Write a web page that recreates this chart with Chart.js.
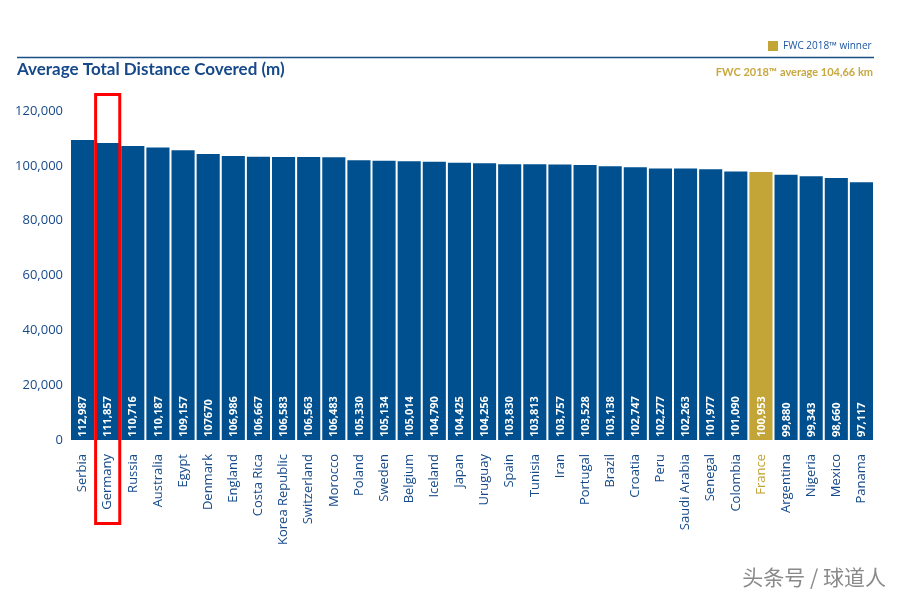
<!DOCTYPE html>
<html>
<head>
<meta charset="utf-8">
<script src="https://cdn.jsdelivr.net/npm/chart.js@4/dist/chart.umd.min.js"></script>
<style>
  html, body { margin: 0; padding: 0; background: #ffffff; }
  #wrap { width: 900px; height: 595px; position: relative; }
</style>
</head>
<body>
<div id="wrap"><canvas id="c" width="900" height="595"></canvas></div>
<script>
const countries = ["Serbia","Germany","Russia","Australia","Egypt","Denmark","England","Costa Rica","Korea Republic","Switzerland","Morocco","Poland","Sweden","Belgium","Iceland","Japan","Uruguay","Spain","Tunisia","Iran","Portugal","Brazil","Croatia","Peru","Saudi Arabia","Senegal","Colombia","France","Argentina","Nigeria","Mexico","Panama"];
const distances = [112987,111857,110716,110187,109157,107670,106986,106667,106583,106563,106483,105330,105134,105014,104790,104425,104256,103830,103813,103757,103528,103138,102747,102277,102263,101977,101090,100953,99880,99343,98660,97117];
const valueLabels = ["112,987","111,857","110,716","110,187","109,157","107670","106,986","106,667","106,583","106,563","106,483","105,330","105,134","105,014","104,790","104,425","104,256","103,830","103,813","103,757","103,528","103,138","102,747","102,277","102,263","101,977","101,090","100,953","99,880","99,343","98,660","97,117"];
const yTicks = [0,20000,40000,60000,80000,100000,120000];
const winner = "France";
const highlighted = "Germany";

const BLUE = "#00508f";
const GOLD = "#c3a436";
const TEXTBLUE = "#16498a";

const barColors = countries.map(c => c === winner ? GOLD : BLUE);
const labelColors = countries.map(c => c === winner ? GOLD : TEXTBLUE);

const overlay = {
  id: "overlay",
  afterDatasetsDraw(chart) {
    const ctx = chart.ctx;
    const meta = chart.getDatasetMeta(0);
    ctx.save();
    ctx.fillStyle = "#ffffff";
    ctx.font = "bold 11px 'Open Sans'";
    ctx.textAlign = "left";
    ctx.textBaseline = "middle";
    meta.data.forEach((bar, i) => {
      ctx.save();
      ctx.translate(bar.x + 0.5, bar.base - 3);
      ctx.rotate(-Math.PI / 2);
      ctx.fillText(valueLabels[i], 0, 0);
      ctx.restore();
    });
    ctx.restore();
  },
  afterDraw(chart) {
    const ctx = chart.ctx;
    const area = chart.chartArea;
    const xs = chart.scales.x;
    ctx.save();
    ctx.strokeStyle = "#1b4f86";
    ctx.lineWidth = 1.3;
    ctx.beginPath();
    ctx.moveTo(17, 57.5);
    ctx.lineTo(874, 57.5);
    ctx.stroke();
    ctx.fillStyle = TEXTBLUE;
    ctx.font = "bold 17px Lato";
    ctx.textAlign = "left";
    ctx.textBaseline = "middle";
    ctx.fillText("Average Total Distance Covered (m)", 17, 70);
    ctx.fillStyle = GOLD;
    ctx.fillRect(768, 41, 10, 10);
    ctx.fillStyle = "#1a56a0";
    ctx.font = "10px 'Open Sans'";
    ctx.fillText("FWC 2018\u2122 winner", 783, 46);
    ctx.fillStyle = "#c8a840";
    ctx.font = "bold 11px Lato";
    ctx.textAlign = "right";
    ctx.fillText("FWC 2018\u2122 average 104,66 km", 873, 72);
    const gi = countries.indexOf(highlighted);
    const half = (xs.getPixelForValue(1) - xs.getPixelForValue(0)) / 2;
    const cx = xs.getPixelForValue(gi);
    ctx.strokeStyle = "#ff0000";
    ctx.lineWidth = 3;
    ctx.strokeRect(cx - half + 0.5, area.top - 16.5, 2 * half - 1, area.bottom - area.top + 100);
    ctx.font = "21px 'Noto Sans CJK SC'";
    ctx.textAlign = "right";
    ctx.fillStyle = "#ffffff";
    ctx.fillText("头条号 / 球道人", 887, 578);
    ctx.fillStyle = "#8a8a8a";
    ctx.fillText("头条号 / 球道人", 886, 577);
    ctx.restore();
  }
};

new Chart(document.getElementById("c"), {
  type: "bar",
  data: {
    labels: countries,
    datasets: [{
      data: distances,
      backgroundColor: barColors,
      borderWidth: 0,
      yAxisID: "yb",
      categoryPercentage: 1.0,
      barPercentage: 0.92
    }]
  },
  options: {
    responsive: false,
    animation: false,
    devicePixelRatio: 1,
    layout: { padding: { top: 111, right: 26, left: 0, bottom: 0 } },
    plugins: { legend: { display: false }, tooltip: { enabled: false }, title: { display: false } },
    scales: {
      x: {
        grid: { display: false, drawTicks: false },
        border: { display: false },
        afterFit(axis) { axis.height = 155; },
        ticks: {
          autoSkip: false,
          minRotation: 90,
          maxRotation: 90,
          padding: 14,
          color: labelColors,
          font: { family: "'Open Sans'", size: 13, weight: "500" }
        }
      },
      y: {
        position: "left",
        min: 0,
        max: 120000,
        afterFit(axis) { axis.width = 70; },
        afterBuildTicks(axis) { axis.ticks = yTicks.map(v => ({ value: v })); },
        grid: { display: false, drawTicks: false },
        border: { display: false },
        ticks: {
          padding: 7,
          color: TEXTBLUE,
          font: { family: "'Open Sans'", size: 13, weight: "500" },
          callback: v => v.toLocaleString("en-US")
        }
      },
      yb: {
        display: false,
        min: 0,
        max: 123909
      }
    }
  },
  plugins: [overlay]
});
</script>
</body>
</html>
